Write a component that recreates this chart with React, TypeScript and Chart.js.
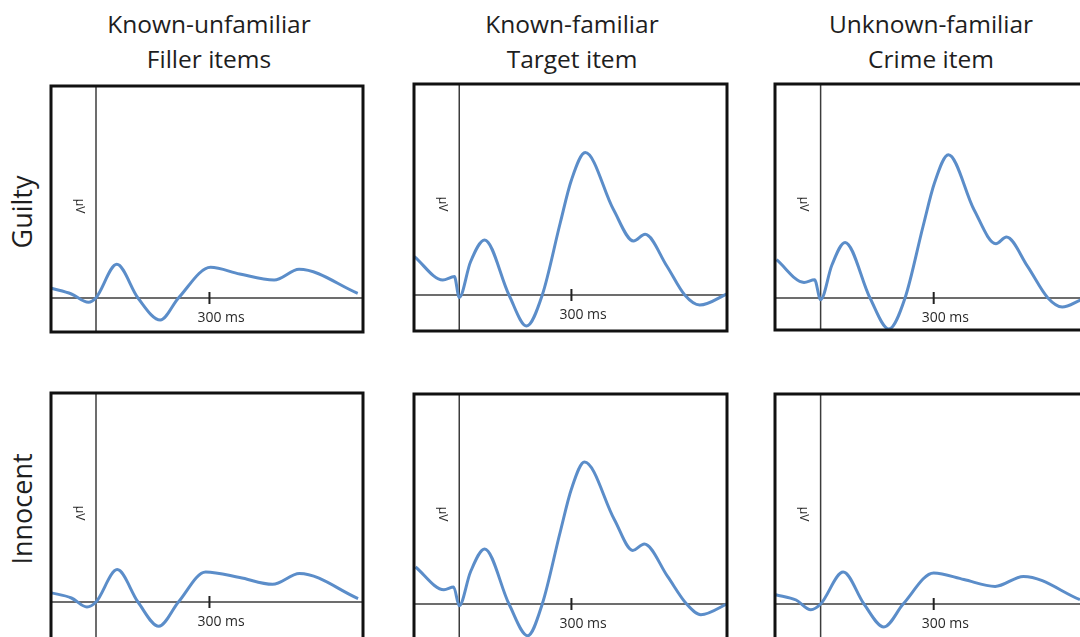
import React, { useEffect, useRef } from "react";
import { Chart, registerables } from "chart.js";

Chart.register(...registerables);

// ---- text ----
const columnTitles = [
  ["Known-unfamiliar", "Filler items"],
  ["Known-familiar", "Target item"],
  ["Unknown-familiar", "Crime item"],
];
const rowLabels = ["Guilty", "Innocent"];
const tickValue = 300;
const tickLabel = "300 ms";
const tickNumber = "300";
const unitLabel = "µV";

// ---- data: time (ms) / amplitude (µV) ----
const guiltyFillerTimes = [-118, -65, -20, 0, 55, 111, 170, 218, 303, 380, 471, 537, 692];
const guiltyFillerValues = [0.97, 0.4, -0.43, 0.03, 3.37, 0, -2.2, 0, 3.07, 2.4, 1.8, 2.87, 0.47];

const guiltyTargetTimes = [-120, -44, -13, 0, 30, 68, 133, 180, 222, 270, 300, 337, 412, 466, 497, 555, 603, 643, 719];
const guiltyTargetValues = [3.84, 1.5, 1.84, -0.26, 3.3, 5.5, 0, -3.1, 0, 7.2, 11.5, 14.24, 8.57, 5.4, 6.07, 2.9, 0, -1.0, 0.17];

const guiltyCrimeTimes = [-117, -44, -16, 0, 30, 65, 131, 181, 224, 272, 302, 339, 407, 465, 493, 549, 603, 641, 690];
const guiltyCrimeValues = [3.83, 1.56, 1.83, -0.17, 3.3, 5.56, 0, -3.1, 0, 7.2, 11.5, 14.33, 8.83, 5.43, 6.1, 3.16, 0, -0.9, -0.2];

const innocentFillerTimes = [-121, -65, -24, 0, 56, 111, 166, 218, 290, 380, 467, 538, 693];
const innocentFillerValues = [0.94, 0.4, -0.5, 0, 3.24, 0, -2.43, 0, 3.0, 2.45, 1.77, 2.84, 0.34];

const innocentTargetTimes = [-117, -41, -15, 0, 30, 68, 133, 183, 222, 270, 300, 335, 415, 464, 495, 557, 608, 646, 721];
const innocentTargetValues = [3.7, 1.43, 1.7, -0.17, 3.2, 5.5, 0, -3.17, 0, 7.2, 11.5, 14.2, 8.43, 5.36, 6.0, 2.76, 0, -1.07, 0.1];

const innocentCrimeTimes = [-119, -65, -26, 0, 60, 115, 168, 219, 300, 380, 463, 538, 688];
const innocentCrimeValues = [0.93, 0.4, -0.57, 0, 3.2, 0, -2.3, 0, 3.1, 2.45, 1.76, 2.76, 0.43];

const LINE_COLOR = "#5b8dc9";
const FONT = '"Open Sans", "Noto Sans", sans-serif';

type PanelDef = {
  times: number[];
  values: number[];
  box: [number, number, number, number]; // left, top, right, bottom (px)
  xRange: [number, number];
  yRange: [number, number];
};

const panels: PanelDef[] = [
  { times: guiltyFillerTimes, values: guiltyFillerValues, box: [51, 86, 363, 332], xRange: [-119, 706], yRange: [-3.4, 21.2] },
  { times: guiltyTargetTimes, values: guiltyTargetValues, box: [414, 84, 727, 331], xRange: [-121, 716], yRange: [-3.6, 21.1] },
  { times: guiltyCrimeTimes, values: guiltyCrimeValues, box: [775, 84, 1089, 330], xRange: [-121, 712], yRange: [-3.2, 21.4] },
  { times: innocentFillerTimes, values: innocentFillerValues, box: [51, 393, 363, 640], xRange: [-119, 706], yRange: [-3.8, 20.9] },
  { times: innocentTargetTimes, values: innocentTargetValues, box: [414, 394, 727, 641], xRange: [-121, 716], yRange: [-3.7, 21.0] },
  { times: innocentCrimeTimes, values: innocentCrimeValues, box: [775, 394, 1089, 641], xRange: [-121, 712], yRange: [-3.7, 21.0] },
];

const erpAxes = {
  id: "erpAxes",
  beforeDatasetsDraw(chart: any) {
    const { ctx, chartArea: a, scales } = chart;
    const x0 = scales.x.getPixelForValue(0);
    const y0 = scales.y.getPixelForValue(0);
    const xt = scales.x.getPixelForValue(tickValue);
    ctx.save();
    ctx.strokeStyle = "#3c3c3c";
    ctx.lineWidth = 1.5;
    ctx.beginPath();
    ctx.moveTo(a.left, y0);
    ctx.lineTo(a.right, y0);
    ctx.stroke();
    ctx.beginPath();
    ctx.moveTo(x0, a.top);
    ctx.lineTo(x0, a.bottom);
    ctx.stroke();
    ctx.strokeStyle = "#222";
    ctx.lineWidth = 2;
    ctx.beginPath();
    ctx.moveTo(xt, y0 - 6);
    ctx.lineTo(xt, y0 + 6);
    ctx.stroke();
    ctx.fillStyle = "#2a2a2a";
    ctx.font = `14px ${FONT}`;
    ctx.textAlign = "left";
    ctx.textBaseline = "alphabetic";
    const w = ctx.measureText(tickNumber).width;
    ctx.fillText(tickLabel, xt - w / 2, y0 + 24);
    ctx.translate(x0 - 17, a.top + 120);
    ctx.rotate(Math.PI / 2);
    ctx.textAlign = "center";
    ctx.textBaseline = "middle";
    ctx.font = `12px ${FONT}`;
    ctx.fillText(unitLabel, 0, 0);
    ctx.restore();
  },
  afterDatasetsDraw(chart: any) {
    const { ctx, chartArea: a } = chart;
    ctx.save();
    ctx.strokeStyle = "#111";
    ctx.lineWidth = 3;
    ctx.strokeRect(a.left, a.top, a.right - a.left, a.bottom - a.top);
    ctx.restore();
  },
};

const M = 6;

function ErpPanel({ p }: { p: PanelDef }) {
  const ref = useRef<HTMLCanvasElement>(null);
  useEffect(() => {
    const chart = new Chart(ref.current as HTMLCanvasElement, {
      type: "line",
      data: {
        datasets: [
          {
            data: p.times.map((t, i) => ({ x: t, y: p.values[i] })),
            borderColor: LINE_COLOR,
            borderWidth: 3,
            pointRadius: 0,
            fill: false,
            cubicInterpolationMode: "monotone",
          } as any,
        ],
      },
      options: {
        animation: false,
        responsive: false,
        devicePixelRatio: 1,
        events: [],
        layout: { padding: M },
        plugins: { legend: { display: false }, tooltip: { enabled: false }, title: { display: false } },
        scales: {
          x: { type: "linear", display: false, min: p.xRange[0], max: p.xRange[1] },
          y: { type: "linear", display: false, min: p.yRange[0], max: p.yRange[1] },
        },
      },
      plugins: [erpAxes],
    });
    return () => chart.destroy();
  }, [p]);
  const [l, t, r, b] = p.box;
  return (
    <canvas
      ref={ref}
      width={r - l + 2 * M}
      height={b - t + 2 * M}
      style={{ position: "absolute", left: l - M, top: t - M, width: r - l + 2 * M, height: b - t + 2 * M }}
    />
  );
}

const titleCenters = [209, 572, 931];
const rowCenters = [212, 509];

export default function App() {
  return (
    <div
      style={{
        position: "fixed",
        left: 0,
        top: 0,
        width: 1080,
        height: 637,
        overflow: "hidden",
        background: "#fff",
        fontFamily: FONT,
        color: "#1e1e1e",
      }}
    >
      {columnTitles.map((lines, i) => (
        <div
          key={i}
          style={{
            position: "absolute",
            left: titleCenters[i] - 150,
            width: 300,
            top: 6,
            textAlign: "center",
            fontSize: 24.5,
            lineHeight: "35px",
            whiteSpace: "nowrap",
          }}
        >
          {lines[0]}
          <br />
          {lines[1]}
        </div>
      ))}
      {rowLabels.map((label, i) => (
        <div
          key={label}
          style={{
            position: "absolute",
            left: 22,
            top: rowCenters[i],
            transform: "translate(-50%, -50%) rotate(-90deg)",
            fontSize: 27,
            lineHeight: "30px",
            whiteSpace: "nowrap",
          }}
        >
          {label}
        </div>
      ))}
      {panels.map((p, i) => (
        <ErpPanel key={i} p={p} />
      ))}
    </div>
  );
}
